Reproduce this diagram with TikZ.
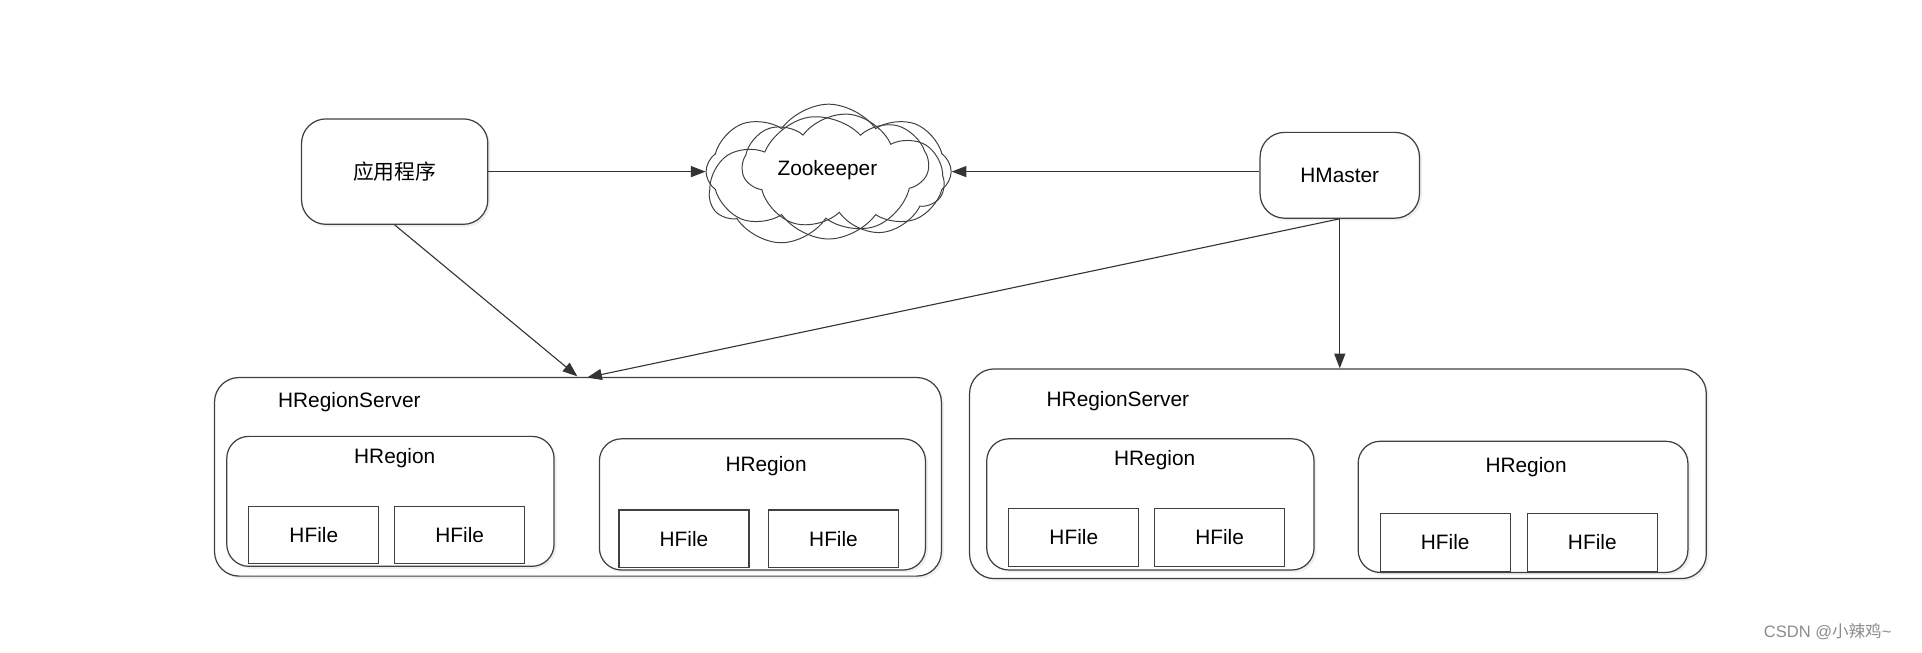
\documentclass[tikz,border=0pt]{standalone}
\usepackage{fontspec}
\setmainfont{Liberation Sans}
\newfontfamily\cjk{Noto Sans CJK SC}
\usetikzlibrary{arrows.meta,shapes.symbols,shadows}

\tikzset{
  box/.style={draw=black!75, line width=1pt, rounded corners=20pt, fill=white,
    drop shadow={opacity=0.12, shadow xshift=2pt, shadow yshift=-2pt}},
  filebox/.style={draw=black!75, line width=1pt, fill=white,
    minimum width=106pt, minimum height=47pt},
  regionbox/.style={box, rounded corners=18pt},
  puff/.style={cloud, draw=black!75, line width=0.8pt, cloud ignores aspect},
  link/.style={draw=black!80, line width=0.9pt, -{Triangle[length=12pt,width=9pt]}},
}

\begin{document}
\begin{tikzpicture}[x=1pt, y=-1pt, font=\fontsize{17}{20}\selectfont]
\useasboundingbox (0,0) rectangle (1568,532);
\fill[white] (0,0) rectangle (1568,532);

% top row
\node[box, minimum width=152pt, minimum height=86pt] (app) at (322,140) {\cjk 应用程序};
\node[box, minimum width=130pt, minimum height=70pt] (hm) at (1093,143) {HMaster};
\node[puff, cloud puffs=8, cloud puff arc=110, minimum width=200pt, minimum height=110pt] (zk) at (676,140) {};
\node[puff, cloud puffs=7, cloud puff arc=115, minimum width=180pt, minimum height=102pt, rotate=10] (zk2) at (668,146) {};
\node[puff, cloud puffs=7, cloud puff arc=120, minimum width=165pt, minimum height=98pt, rotate=-6] (zk3) at (688,142) {};
\node (zklabel) at (675,139) {Zookeeper};

% left region server
\node[box, minimum width=593pt, minimum height=162pt] (ls) at (471.5,389) {};
\node (lslabel) at (285,328) {HRegionServer};
\node[regionbox, minimum width=267pt, minimum height=106pt] (lr1) at (318.5,409) {};
\node (lr1label) at (322,374) {HRegion};
\node[filebox] (lf1) at (256,436.5) {HFile};
\node[filebox] (lf2) at (375,436.5) {HFile};
\node[regionbox, minimum width=266pt, minimum height=107pt] (lr2) at (622,411.5) {};
\node (lr2label) at (625,380) {HRegion};
\node[filebox] (lf3) at (558,439.5) {HFile};
\node[filebox] (lf4) at (680,439.5) {HFile};

% right region server
\node[box, minimum width=601pt, minimum height=171pt] (rs) at (1091.5,386.5) {};
\node (rslabel) at (912,327) {HRegionServer};
\node[regionbox, minimum width=267pt, minimum height=107pt] (rr1) at (938.5,411.5) {};
\node (rr1label) at (942,375) {HRegion};
\node[filebox] (rf1) at (876,438.5) {HFile};
\node[filebox] (rf2) at (995,438.5) {HFile};
\node[regionbox, minimum width=269pt, minimum height=107pt] (rr2) at (1242.5,413.5) {};
\node (rr2label) at (1245,381) {HRegion};
\node[filebox] (rf3) at (1179,442.5) {HFile};
\node[filebox] (rf4) at (1299,442.5) {HFile};

% connectors
\coordinate (in1) at (471,307);
\coordinate (in2) at (479,308);
\draw[link] (app.east) -- (zk.west |- app.east);
\draw[link] (hm.west |- app.east) -- (zk.east |- app.east);
\draw[link] (app.south) -- (in1);
\draw[link] (hm.south) -- (in2);
\draw[link] (hm.south) -- (hm.south |- rs.north);

\node[text=black!45, font=\fontsize{13.5}{16}\selectfont] (mark) at (1491,515) {CSDN @{\cjk 小辣鸡}\textasciitilde};
\end{tikzpicture}
\end{document}
